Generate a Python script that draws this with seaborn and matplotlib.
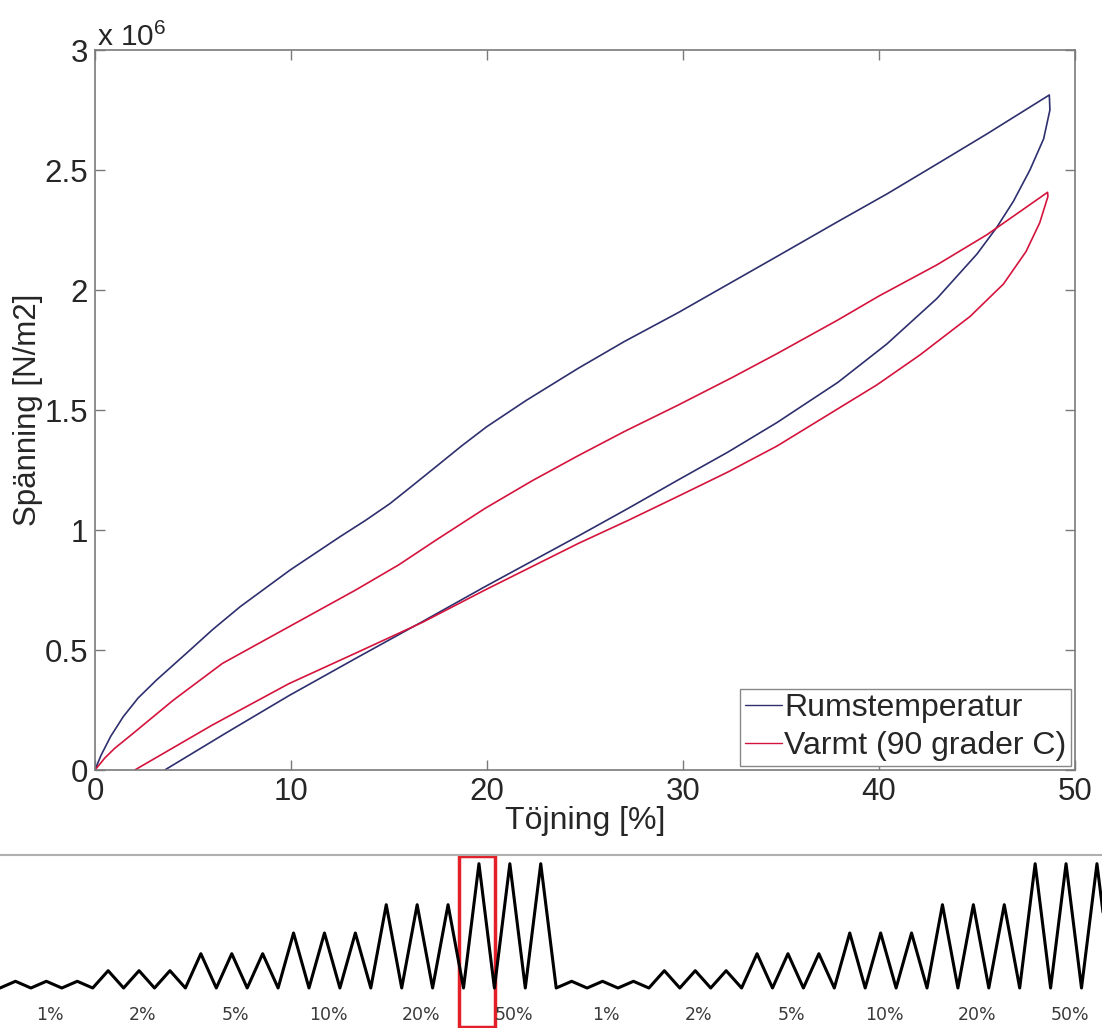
import numpy as np
import pandas as pd
import matplotlib
matplotlib.use("Agg")
import matplotlib.pyplot as plt
import seaborn as sns
from matplotlib.patches import Rectangle
from matplotlib.lines import Line2D
from matplotlib.ticker import FuncFormatter

# ---------------- data (stress in units of 1e6 N/m2) ----------------
series_names = ["Rumstemperatur", "Varmt (90 grader C)"]

rt_load_strain = [0, 0.3, 0.8, 1.44, 2.2, 3.14, 4.85, 6.0, 7.4, 9.95, 12.5, 13.8,
                  15.05, 16.2, 17.4, 18.7, 19.98, 22.0, 24.66, 27.0, 29.74, 32.0,
                  34.8, 37.9, 40.4, 42.96, 45.5, 48.69]
rt_load_stress = [0, 0.06, 0.14, 0.222, 0.30, 0.375, 0.5, 0.585, 0.68, 0.833, 0.972,
                  1.04, 1.11, 1.185, 1.264, 1.35, 1.43, 1.54, 1.674, 1.785, 1.905,
                  2.01, 2.14, 2.285, 2.40, 2.525, 2.65, 2.8125]
rt_unload_strain = [48.72, 48.4, 47.7, 46.86, 46.0, 45.0, 42.96, 40.4, 37.9, 34.8,
                    32.3, 29.74, 27.2, 24.66, 19.9, 16.7, 13.3, 9.9, 6.7, 3.56]
rt_unload_stress = [2.75, 2.63, 2.5, 2.37, 2.26, 2.15, 1.965, 1.775, 1.615, 1.448,
                    1.325, 1.208, 1.09, 0.975, 0.764, 0.618, 0.465, 0.31, 0.155, 0]

hot_load_strain = [0, 0.5, 1.0, 1.95, 3.98, 6.5, 9.9, 13.3, 15.5, 17.4, 19.9, 22.3,
                   24.66, 27.0, 29.74, 32.5, 34.8, 37.9, 40.0, 42.96, 45.5, 48.6]
hot_load_stress = [0, 0.05, 0.09, 0.153, 0.29, 0.444, 0.597, 0.75, 0.855, 0.958,
                   1.09, 1.205, 1.31, 1.41, 1.52, 1.635, 1.735, 1.875, 1.975, 2.105,
                   2.23, 2.407]
hot_unload_strain = [48.62, 48.2, 47.5, 46.35, 44.65, 42.1, 39.9, 37.9, 34.8, 32.3,
                     29.74, 27.2, 24.66, 19.9, 16.7, 13.3, 9.9, 6.0, 2.03]
hot_unload_stress = [2.39, 2.28, 2.16, 2.025, 1.89, 1.73, 1.605, 1.505, 1.35, 1.242,
                     1.14, 1.04, 0.944, 0.75, 0.615, 0.487, 0.36, 0.188, 0]

# strain-program schematic (bottom strip)
block_labels = ["1%", "2%", "5%", "10%", "20%", "50%",
                "1%", "2%", "5%", "10%", "20%", "50%"]
block_amplitude = [6.7, 17.3, 34.3, 55, 83.3, 124.3,
                   6.7, 17.3, 34.3, 55, 83.3, 124.3]
cycles_per_block = 3
highlight_cycle = 15  # first cycle of the first 50% block

colors = {"Rumstemperatur": "#2e2f6e", "Varmt (90 grader C)": "#d4143c"}

# ---------------- build tables ----------------
frames = []
for name, lx, ly, ux, uy in [
    (series_names[0], rt_load_strain, rt_load_stress, rt_unload_strain, rt_unload_stress),
    (series_names[1], hot_load_strain, hot_load_stress, hot_unload_strain, hot_unload_stress),
]:
    xs = list(lx) + list(ux)
    ys = [v * 1e6 for v in list(ly) + list(uy)]
    frames.append(pd.DataFrame({"strain": xs, "stress": ys, "series": name,
                                "order": range(len(xs))}))
df = pd.concat(frames, ignore_index=True)

t_vals, z_vals = [], []
k = 0
for amp in block_amplitude:
    for c in range(cycles_per_block):
        t_vals += [k, k + 0.5]
        z_vals += [0, amp]
        k += 1
t_vals.append(k)
z_vals.append(0)
zig = pd.DataFrame({"t": t_vals, "z": z_vals})

# ---------------- style ----------------
sns.set_style("white")
plt.rcParams["font.family"] = ["Liberation Sans", "DejaVu Sans"]
plt.rcParams["mathtext.fontset"] = "custom"
plt.rcParams["mathtext.rm"] = "Liberation Sans"
plt.rcParams["mathtext.it"] = "Liberation Sans:italic"

W, H = 1102, 1028
FS = 22.5
fig = plt.figure(figsize=(W / 100, H / 100), dpi=100)
fig.patch.set_facecolor("white")

# ---------------- main chart ----------------
ax = fig.add_axes([95 / W, 1 - 770 / H, 980 / W, 720 / H])
sns.lineplot(data=df, x="strain", y="stress", hue="series", hue_order=series_names,
             palette=colors, sort=False, estimator=None, units="series",
             linewidth=1.2, legend=False, ax=ax)
ax.set_xlim(0, 50)
ax.set_ylim(0, 3e6)
ax.set_xticks(np.arange(0, 51, 10))
ax.set_yticks(np.arange(0, 3.01e6, 0.5e6))
ax.yaxis.set_major_formatter(FuncFormatter(lambda v, p: f"{v / 1e6:g}"))
ax.tick_params(axis="both", direction="in", length=7, width=1, color="#7a7a7a",
               bottom=True, left=True, top=True, right=True, labelsize=FS)
ax.tick_params(axis="x", pad=5)
ax.tick_params(axis="y", pad=5)
for s in ax.spines.values():
    s.set_visible(True)
    s.set_color("#7a7a7a")
    s.set_linewidth(1.2)
ax.set_xlabel("Töjning [%]", fontsize=FS + 0.5, labelpad=-1)
ax.set_ylabel("Spänning [N/m2]", fontsize=FS, labelpad=1)

handles = [Line2D([], [], color=colors[n], lw=1.0) for n in series_names]
leg = ax.legend(handles, series_names, loc="lower right", fontsize=23, frameon=True,
                fancybox=False, edgecolor="#888888", framealpha=1,
                handlelength=1.15, handletextpad=0.08, borderpad=0.15,
                labelspacing=0.25, borderaxespad=0.12)
leg.get_frame().set_linewidth(1.0)

fig.text(97 / W, 1 - 46 / H, r"x 10$^{6}$", fontsize=21.5, ha="left", va="baseline")

# ---------------- strain programme strip ----------------
period_px = 30.9
ax2 = fig.add_axes([0, 0, 1, 173 / H])
sns.lineplot(data=zig, x="t", y="z", color="black", linewidth=2.2, sort=False,
             estimator=None, ax=ax2)
ax2.set_xlim(0, W / period_px)
ax2.set_ylim(-40, 133)
for name, s in ax2.spines.items():
    s.set_visible(name == "top")
ax2.spines["top"].set_color("#b0b0b0")
ax2.spines["top"].set_linewidth(1.5)
ax2.set_xticks([])
ax2.set_yticks([])
ax2.set_xlabel("")
ax2.set_ylabel("")
for i, lab in enumerate(block_labels):
    ax2.text(i * cycles_per_block + 1.5 + 0.12, -27, lab, ha="center", va="center",
             fontsize=12.5, color="#3a3a3a", family="DejaVu Sans")
ax2.add_patch(Rectangle((highlight_cycle - 0.15, -39), 1.17, 171.5, fill=False,
                        edgecolor="#e3202a", linewidth=2.5, clip_on=False))

fig.savefig("out.png", dpi=100, facecolor="white")
